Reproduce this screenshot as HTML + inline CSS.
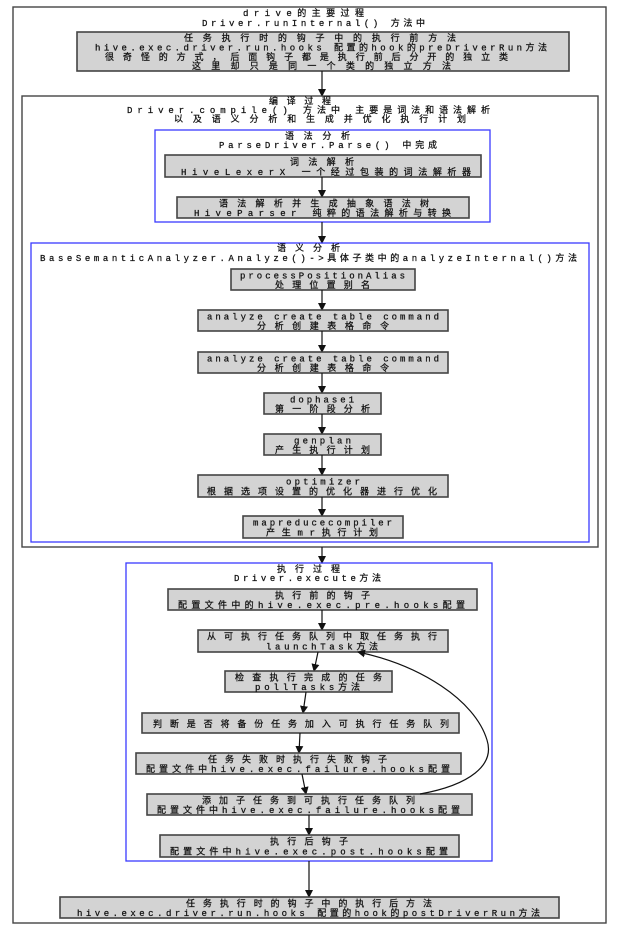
<!DOCTYPE html>
<html><head><meta charset="utf-8"><style>
html,body{margin:0;padding:0;background:#fff;width:617px;height:930px;overflow:hidden}
text{font-family:"Liberation Mono","Noto Sans CJK SC",monospace;font-size:9px;fill:#111;text-anchor:start;stroke:#111;stroke-width:0.25}
.b{fill:#d3d3d3;stroke:#444;stroke-width:1.6}
.c{fill:none;stroke:#3a3aff;stroke-width:1.3}
.o{fill:none;stroke:#444;stroke-width:1.4}
.l{stroke:#111;stroke-width:1.2;fill:none}
</style></head><body>
<svg width="617" height="930" xmlns="http://www.w3.org/2000/svg">
<defs><marker id="a" markerWidth="8" markerHeight="8" refX="7" refY="4" orient="auto" markerUnits="userSpaceOnUse"><path d="M0,0 L8,4 L0,8 z" fill="#111"/></marker></defs>
<rect x="13" y="7" width="593" height="916" class="o"/>
<rect x="77" y="32" width="492" height="39" class="b"/>
<line x1="322" y1="71" x2="322" y2="96" class="l" marker-end="url(#a)"/>
<rect x="22" y="96" width="576" height="451" class="o"/>
<rect x="155" y="130" width="335" height="92" class="c"/>
<rect x="165" y="155" width="316" height="22" class="b"/>
<line x1="322" y1="177" x2="322" y2="197" class="l" marker-end="url(#a)"/>
<rect x="177" y="197" width="292" height="21" class="b"/>
<line x1="322" y1="222" x2="322" y2="243" class="l" marker-end="url(#a)"/>
<rect x="31" y="243" width="558" height="299" class="c"/>
<rect x="231" y="269" width="184" height="21" class="b"/>
<line x1="322" y1="290" x2="322" y2="310" class="l" marker-end="url(#a)"/>
<rect x="198" y="310" width="250" height="21" class="b"/>
<line x1="322" y1="331" x2="322" y2="352" class="l" marker-end="url(#a)"/>
<rect x="198" y="352" width="250" height="21" class="b"/>
<line x1="322" y1="373" x2="322" y2="393" class="l" marker-end="url(#a)"/>
<rect x="264" y="393" width="117" height="21" class="b"/>
<line x1="322" y1="414" x2="322" y2="434" class="l" marker-end="url(#a)"/>
<rect x="264" y="434" width="117" height="21" class="b"/>
<line x1="322" y1="455" x2="322" y2="475" class="l" marker-end="url(#a)"/>
<rect x="198" y="475" width="250" height="22" class="b"/>
<line x1="322" y1="497" x2="322" y2="516" class="l" marker-end="url(#a)"/>
<rect x="243" y="516" width="160" height="22" class="b"/>
<line x1="322" y1="547" x2="322" y2="563" class="l" marker-end="url(#a)"/>
<rect x="126" y="563" width="366" height="298" class="c"/>
<rect x="168" y="589" width="309" height="21" class="b"/>
<line x1="322" y1="610" x2="322" y2="630" class="l" marker-end="url(#a)"/>
<rect x="198" y="630" width="250" height="22" class="b"/>
<line x1="318" y1="652" x2="314" y2="671" class="l" marker-end="url(#a)"/>
<rect x="225" y="671" width="167" height="21" class="b"/>
<line x1="306" y1="692" x2="303" y2="713" class="l" marker-end="url(#a)"/>
<rect x="142" y="713" width="317" height="20" class="b"/>
<line x1="300" y1="733" x2="299" y2="753" class="l" marker-end="url(#a)"/>
<rect x="136" y="753" width="325" height="21" class="b"/>
<line x1="302" y1="774" x2="306" y2="794" class="l" marker-end="url(#a)"/>
<rect x="147" y="794" width="325" height="21" class="b"/>
<path d="M420,794 C470,785 495,765 487,740 C475,700 420,665 358,652" class="l" marker-end="url(#a)"/>
<line x1="309" y1="815" x2="309" y2="835" class="l" marker-end="url(#a)"/>
<rect x="160" y="835" width="299" height="22" class="b"/>
<line x1="309" y1="861" x2="309" y2="897" class="l" marker-end="url(#a)"/>
<rect x="60" y="897" width="499" height="21" class="b"/>
<g transform="translate(0,0)">
<text x="243" y="16" textLength="121" lengthAdjust="spacing">drive的主要过程</text>
<text x="202" y="26" textLength="223" lengthAdjust="spacing">Driver.runInternal() 方法中</text>
<text x="184" y="41" textLength="272" lengthAdjust="spacing">任务执行时的钩子中的执行前方法</text>
<text x="95" y="50.5" textLength="452" lengthAdjust="spacing">hive.exec.driver.run.hooks 配置的hook的preDriverRun方法</text>
<text x="105" y="60" textLength="403" lengthAdjust="spacing">很奇怪的方式，后面钩子都是执行前后分开的独立类</text>
<text x="192" y="69" textLength="259" lengthAdjust="spacing">这里却只是同一个类的独立方法</text>
<text x="269" y="104" textLength="62" lengthAdjust="spacing">编译过程</text>
<text x="127" y="113" textLength="363" lengthAdjust="spacing">Driver.compile() 方法中 主要是词法和语法解析</text>
<text x="174" y="122" textLength="292" lengthAdjust="spacing">以及语义分析和生成并优化执行计划</text>
<text x="285" y="139" textLength="65" lengthAdjust="spacing">语法分析</text>
<text x="219" y="148" textLength="218" lengthAdjust="spacing">ParseDriver.Parse() 中完成</text>
<text x="290" y="165" textLength="64" lengthAdjust="spacing">词法解析</text>
<text x="181" y="175" textLength="290" lengthAdjust="spacing">HiveLexerX 一个经过包装的词法解析器</text>
<text x="219" y="206.5" textLength="210" lengthAdjust="spacing">语法解析并生成抽象语法树</text>
<text x="194" y="216" textLength="257" lengthAdjust="spacing">HiveParser 纯粹的语法解析与转换</text>
<text x="277" y="251" textLength="63" lengthAdjust="spacing">语义分析</text>
<text x="40" y="261" textLength="537" lengthAdjust="spacing">BaseSemanticAnalyzer.Analyze()->具体子类中的analyzeInternal()方法</text>
<text x="240" y="278.5" textLength="165" lengthAdjust="spacing">processPositionAlias</text>
<text x="275" y="288" textLength="95" lengthAdjust="spacing">处理位置别名</text>
<text x="207" y="319.5" textLength="232" lengthAdjust="spacing">analyze create table command</text>
<text x="257" y="329" textLength="132" lengthAdjust="spacing">分析创建表格命令</text>
<text x="207" y="361.5" textLength="232" lengthAdjust="spacing">analyze create table command</text>
<text x="257" y="371" textLength="132" lengthAdjust="spacing">分析创建表格命令</text>
<text x="290" y="402.5" textLength="64" lengthAdjust="spacing">dophase1</text>
<text x="275" y="412" textLength="95" lengthAdjust="spacing">第一阶段分析</text>
<text x="294" y="443.5" textLength="57" lengthAdjust="spacing">genplan</text>
<text x="275" y="453" textLength="95" lengthAdjust="spacing">产生执行计划</text>
<text x="286" y="484.5" textLength="74" lengthAdjust="spacing">optimizer</text>
<text x="207" y="494.5" textLength="230" lengthAdjust="spacing">根据选项设置的优化器进行优化</text>
<text x="253" y="525.5" textLength="139" lengthAdjust="spacing">mapreducecompiler</text>
<text x="266" y="535.5" textLength="112" lengthAdjust="spacing">产生mr执行计划</text>
<text x="277" y="572" textLength="63" lengthAdjust="spacing">执行过程</text>
<text x="234" y="581" textLength="147" lengthAdjust="spacing">Driver.execute方法</text>
<text x="275" y="598.5" textLength="95" lengthAdjust="spacing">执行前的钩子</text>
<text x="178" y="608" textLength="287" lengthAdjust="spacing">配置文件中的hive.exec.pre.hooks配置</text>
<text x="207" y="639.5" textLength="230" lengthAdjust="spacing">从可执行任务队列中取任务执行</text>
<text x="266" y="649.5" textLength="112" lengthAdjust="spacing">launchTask方法</text>
<text x="235" y="680.5" textLength="147" lengthAdjust="spacing">检查执行完成的任务</text>
<text x="255" y="690" textLength="105" lengthAdjust="spacing">pollTasks方法</text>
<text x="153" y="727" textLength="296" lengthAdjust="spacing">判断是否将备份任务加入可执行任务队列</text>
<text x="208" y="762.5" textLength="179" lengthAdjust="spacing">任务失败时执行失败钩子</text>
<text x="146" y="772" textLength="304" lengthAdjust="spacing">配置文件中hive.exec.failure.hooks配置</text>
<text x="202" y="803.5" textLength="213" lengthAdjust="spacing">添加子任务到可执行任务队列</text>
<text x="157" y="813" textLength="303" lengthAdjust="spacing">配置文件中hive.exec.failure.hooks配置</text>
<text x="270" y="844.5" textLength="78" lengthAdjust="spacing">执行后钩子</text>
<text x="170" y="854.5" textLength="278" lengthAdjust="spacing">配置文件中hive.exec.post.hooks配置</text>
<text x="186" y="906.5" textLength="246" lengthAdjust="spacing">任务执行时的钩子中的执行后方法</text>
<text x="77" y="916" textLength="463" lengthAdjust="spacing">hive.exec.driver.run.hooks 配置的hook的postDriverRun方法</text>
</g>
</svg>
</body></html>
